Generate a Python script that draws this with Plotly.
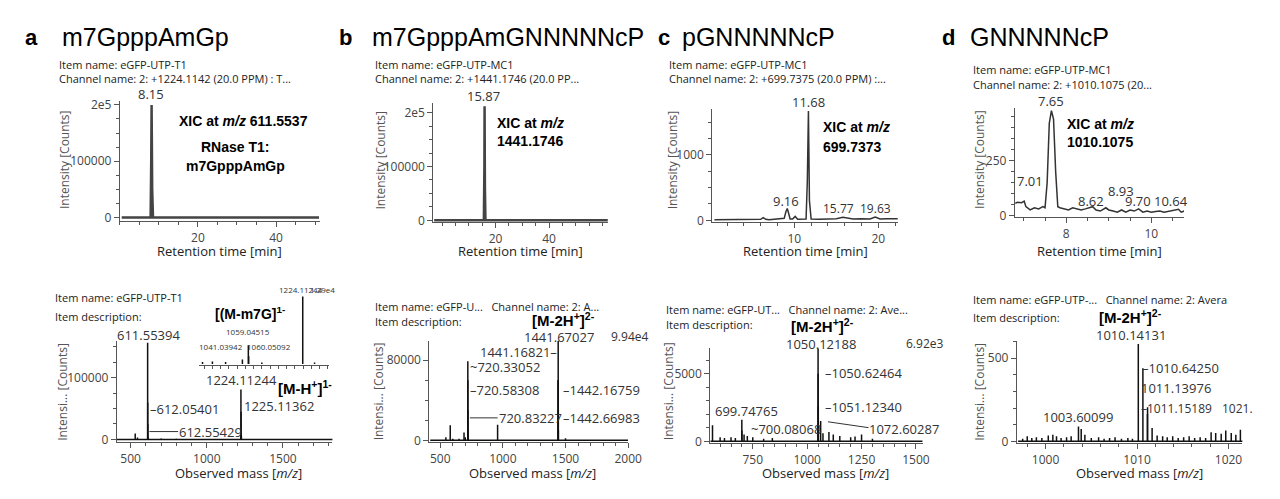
import plotly.graph_objects as go

W, H = 1280, 499

# ---------------- data ----------------
a_rt = [0.5, 7.9, 8.05, 8.15, 8.3, 8.5, 51]
a_xic = [0, 0, 100000, 200000, 50000, 0, 0]
a_mz = [530, 545, 611.55394, 612.05401, 612.55429, 613.05, 700, 800, 1224.11244, 1225.11362, 1226.1, 1227.1, 1420, 1800]
a_int = [9500, 3000, 157000, 60000, 25000, 5000, 1500, 1000, 81000, 45000, 15000, 5000, 800, 500]
ai_mz = [920, 950, 990, 1041.03942, 1059.04515, 1060.05092, 1100, 1224.11244, 1260]
ai_int = [400, 500, 400, 900, 3600, 1500, 300, 12900, 300]

b_rt = [-3, 15.6, 15.8, 15.87, 16.0, 16.2, 62]
b_xic = [0, 0, 100000, 212000, 60000, 0, 0]
b_mz = [545, 580, 600, 650, 690, 700, 720.33052, 720.58308, 720.83227, 721.08, 958, 1441.16821, 1441.67027, 1442.16759, 1442.66983, 1443.17, 1500]
b_int = [3000, 15000, 1500, 1500, 7800, 3000, 79000, 60000, 30000, 10000, 15600, 60000, 99400, 60000, 30000, 10000, 2000]

c_rt = [0.5, 4, 6, 6.3, 6.6, 7, 8, 8.8, 9.0, 9.16, 9.3, 9.5, 9.8, 10.1, 10.4, 11.0, 11.4, 11.55, 11.68, 11.8, 12.0, 13, 14, 15, 15.77, 16.5, 17, 18, 19, 19.63, 20.2, 21, 22, 22.3]
c_xic = [10, 15, 15, 40, 15, 10, 15, 30, 130, 180, 120, 20, 20, 60, 15, 15, 20, 600, 1670, 300, 20, 15, 20, 25, 45, 30, 20, 25, 20, 50, 20, 25, 20, 25]
c_mz = [565, 600, 620, 650, 670, 699.74765, 700.08068, 710, 725, 750, 800, 840, 1050.12188, 1050.62464, 1051.12340, 1051.6, 1062, 1072.60287, 1100, 1120, 1150, 1200, 1220, 1250, 1300]
c_int = [1200, 300, 250, 300, 250, 1600, 800, 500, 400, 300, 200, 250, 6920, 5000, 2600, 1000, 1500, 600, 700, 500, 400, 300, 350, 500, 200]

d_rt = [6.80, 6.85, 6.95, 7.01, 7.05, 7.15, 7.25, 7.35, 7.45, 7.50, 7.55, 7.60, 7.65, 7.70, 7.75, 7.80, 7.85, 7.95, 8.05, 8.15, 8.25, 8.35, 8.45, 8.55, 8.62, 8.70, 8.80, 8.93, 9.00, 9.10, 9.20, 9.30, 9.40, 9.50, 9.60, 9.70, 9.80, 9.90, 10.00, 10.10, 10.20, 10.30, 10.40, 10.50, 10.64, 10.70, 10.77]
d_xic = [55, 60, 58, 65, 40, 25, 35, 30, 40, 35, 150, 420, 478, 440, 200, 40, 35, 30, 25, 35, 30, 25, 30, 35, 40, 25, 20, 35, 25, 20, 15, 25, 15, 25, 20, 30, 15, 20, 15, 18, 20, 15, 18, 22, 28, 15, 20]
d_mz = [997.5, 998.0, 998.5, 999.0, 999.6, 1000.3, 1000.8, 1001.2, 1001.7, 1002.3, 1002.8, 1003.60099, 1003.9, 1004.3, 1005.0, 1005.8, 1006.4, 1007.0, 1007.6, 1008.3, 1009.0, 1009.5,
        1010.14131, 1010.64250, 1011.13976, 1011.15189, 1011.65, 1012.2, 1012.8, 1013.3, 1013.9, 1014.5, 1015.1, 1015.7, 1016.3, 1016.9, 1017.5, 1018.1, 1018.6, 1019.2, 1019.7, 1020.3, 1020.8, 1021.3, 1021.8, 1022.3, 1022.9, 1023.3]
d_int = [15, 30, 20, 25, 20, 35, 40, 30, 20, 25, 30, 90, 75, 40, 20, 25, 15, 20, 25, 15, 20, 15,
         585, 440, 165, 205, 80, 35, 30, 25, 30, 20, 25, 30, 20, 25, 20, 55, 50, 45, 65, 50, 40, 70, 55, 35, 30, 25]

# ---------------- helpers ----------------
def rng(p1, v1, p2, v2, a, b):
    k = (v2 - v1) / (p2 - p1)
    return [v1 + (a - p1) * k, v1 + (b - p1) * k]

def sticks(mz, it):
    xs, ys = [], []
    for m, i in zip(mz, it):
        xs += [m, m, None]
        ys += [0, i, None]
    return xs, ys

TICKF = dict(family="Open Sans", size=12, color="#444")
fig = go.Figure()
layout = {}
annots = []

def add_axes(n, xpx, xcal, ypx, ycal, xticks, xminor, yticks, yminor, ytext=None, showlabels=True, showy=True):
    sx = "" if n == 1 else str(n)
    xr = rng(xcal[0], xcal[1], xcal[2], xcal[3], xpx[0], xpx[1])
    yr = rng(ycal[0], ycal[1], ycal[2], ycal[3], ypx[1], ypx[0])
    if ytext is None and yticks:
        ytext = [str(v) for v in yticks]
    layout["xaxis" + sx] = dict(domain=[xpx[0] / W, xpx[1] / W], range=xr, anchor="y" + sx,
                                showline=True, linecolor="#555", linewidth=1, ticks="outside", ticklen=5, tickcolor="#555",
                                tickvals=xticks, ticktext=[str(v) for v in xticks], showticklabels=showlabels, tickfont=TICKF,
                                showgrid=False, zeroline=False,
                                minor=dict(ticks="outside", ticklen=3, tickcolor="#555", dtick=xminor, showgrid=False))
    layout["yaxis" + sx] = dict(domain=[1 - ypx[1] / H, 1 - ypx[0] / H], range=yr, anchor="x" + sx,
                                showline=showy, linecolor="#555", linewidth=1, ticks="outside" if showy else "", ticklen=5, tickcolor="#555",
                                tickvals=yticks, ticktext=ytext, showticklabels=showy, tickfont=TICKF, showgrid=False, zeroline=False,
                                minor=dict(ticks="outside" if showy else "", ticklen=3, tickcolor="#555", dtick=yminor, showgrid=False))
    return "x" + sx, "y" + sx

def ann(x, y, text, size=13, color="#333", xa="center", bold=False, family="Open Sans", angle=0):
    if bold:
        text = "<b>" + text + "</b>"
    annots.append(dict(x=x / W, y=1 - y / H, xref="paper", yref="paper", text=text, showarrow=False,
                       xanchor=xa, yanchor="middle", textangle=angle, borderpad=0,
                       font=dict(size=size, color=color, family=family)))

def line(x0, y0, x1, y1):
    layout.setdefault("shapes", []).append(dict(type="line", xref="paper", yref="paper",
                                                 x0=x0 / W, y0=1 - y0 / H, x1=x1 / W, y1=1 - y1 / H,
                                                 line=dict(color="#333", width=1)))

BF = "Liberation Sans"

# ---------- panel a ----------
xa_, ya_ = add_axes(1, [113, 315], [192, 20, 271, 40], [90, 213], [209, 0, 94, 200000], [20, 40], 5, [0, 100000, 200000], 25000, ["0", "100000", "2e5"])
fig.add_trace(go.Scatter(x=a_rt, y=a_xic, mode="lines", line=dict(color="#444", width=2.5), xaxis=xa_, yaxis=ya_))
xa_, ya_ = add_axes(2, [110, 328], [124, 500, 278, 1500], [335, 439], [436, 0, 373, 100000], [500, 1000, 1500], 100, [0, 100000], 25000)
xs, ys = sticks(a_mz, a_int)
fig.add_trace(go.Scatter(x=[a_mz[0] - 130] + [a_mz[-1] + 40], y=[0, 0], mode="lines", line=dict(color="#111", width=1.5), xaxis=xa_, yaxis=ya_))
fig.add_trace(go.Scatter(x=xs, y=ys, mode="lines", line=dict(color="#111", width=1.5), xaxis=xa_, yaxis=ya_))
xa_, ya_ = add_axes(3, [193, 325], [243, 1059.04515, 298, 1224.11244], [288, 360], [359, 0, 290, 12900], [], 25, [], None, showlabels=False, showy=False)
xs, ys = sticks(ai_mz, ai_int)
fig.add_trace(go.Scatter(x=xs, y=ys, mode="lines", line=dict(color="#111", width=1.5), xaxis=xa_, yaxis=ya_))

ann(24, 25, "a", 22, "#000", bold=True, family=BF)
ann(54, 25, "m7GpppAmGp", 25, "#000", xa="left", family=BF)
ann(51, 53, "Item name: eGFP-UTP-T1", 11, "#222", xa="left")
ann(51, 67, "Channel name: 2: +1224.1142 (20.0 PPM) : T...", 11, "#222", xa="left")
ann(145, 83, "8.15", 13)
ann(172, 110, "XIC at <i>m/z</i> 611.5537", 14, "#000", xa="left", bold=True, family=BF)
ann(230, 137, "RNase T1:", 14, "#000", bold=True, family=BF)
ann(230, 156, "m7GpppAmGp", 14, "#000", bold=True, family=BF)
ann(57, 150, "Intensity [Counts]", 12, "#555", angle=-90)
ann(214, 243, "Retention time [min]", 13, "#222")
ann(47, 291, "Item name: eGFP-UTP-T1", 11, "#222", xa="left")
ann(47, 310, "Item description:", 11, "#222", xa="left")
ann(142, 329, "611.55394", 13)
ann(143, 405, "–612.05401", 13, xa="left")
line(143, 428, 172, 428)
ann(172, 428, "612.55429", 13, xa="left")
ann(236, 375, "1224.11244", 13)
ann(238, 402, "1225.11362", 13, xa="left")
ann(300, 383, "[M-H<sup>+</sup>]<sup>1-</sup>", 15, "#000", bold=True, family=BF)
ann(245, 307, "[(M-m7G]<sup>1-</sup>", 14, "#000", bold=True, family=BF)
ann(243, 326, "1059.04515", 8)
ann(215, 341, "1041.03942", 8)
ann(264, 341, "1060.05092", 8)
ann(296, 283, "1224.11244", 8)
ann(318, 283, "1.29e4", 8)
ann(55, 387, "Intensi... [Counts]", 12, "#555", angle=-90)
ann(233, 470, "Observed mass [<i>m/z</i>]", 13, "#222")

# ---------- panel b ----------
xa_, ya_ = add_axes(4, [430, 607], [493, 20, 547, 40], [92, 214], [212, 0, 102, 200000], [20, 40], 5, [0, 100000, 200000], 25000, ["0", "100000", "2e5"])
fig.add_trace(go.Scatter(x=b_rt, y=b_xic, mode="lines", line=dict(color="#444", width=2.5), xaxis=xa_, yaxis=ya_))
xa_, ya_ = add_axes(5, [426, 627], [437, 500, 627, 2000], [335, 439], [437, 0, 355, 80000], [500, 1000, 1500, 2000], 100, [0, 80000], 20000)
xs, ys = sticks(b_mz, b_int)
fig.add_trace(go.Scatter(x=[420, 2000], y=[0, 0], mode="lines", line=dict(color="#111", width=1.5), xaxis=xa_, yaxis=ya_))
fig.add_trace(go.Scatter(x=xs, y=ys, mode="lines", line=dict(color="#111", width=1.5), xaxis=xa_, yaxis=ya_))

ann(341, 25, "b", 22, "#000", bold=True, family=BF)
ann(367, 25, "m7GpppAmGNNNNNcP", 25, "#000", xa="left", family=BF)
ann(370, 53, "Item name: eGFP-UTP-MC1", 11, "#222", xa="left")
ann(370, 67, "Channel name: 2: +1441.1746 (20.0 PP...", 11, "#222", xa="left")
ann(481, 85, "15.87", 13)
ann(493, 112, "XIC at <i>m/z</i>", 14, "#000", xa="left", bold=True, family=BF)
ann(493, 131, "1441.1746", 14, "#000", xa="left", bold=True, family=BF)
ann(377, 150, "Intensity [Counts]", 12, "#555", angle=-90)
ann(518, 243, "Retention time [min]", 13, "#222")
ann(370, 300, "Item name: eGFP-U...   Channel name: 2: A...", 11, "#222", xa="left")
ann(370, 315, "Item description:", 11, "#222", xa="left")
ann(562, 313, "[M-2H<sup>+</sup>]<sup>2-</sup>", 15, "#000", bold=True, family=BF)
ann(557, 331, "1441.67027", 13)
ann(628, 331, "9.94e4", 12)
ann(556, 347, "1441.16821–", 13, xa="right")
ann(466, 362, "~720.33052", 13, xa="left")
ann(466, 385, "–720.58308", 13, xa="left")
line(467, 414, 495, 414)
ann(495, 414, "720.83227", 13, xa="left")
ann(560, 385, "–1442.16759", 13, xa="left")
ann(560, 414, "–1442.66983", 13, xa="left")
ann(375, 387, "Intensi... [Counts]", 12, "#555", angle=-90)
ann(530, 470, "Observed mass [<i>m/z</i>]", 13, "#222")

# ---------- panel c ----------
xa_, ya_ = add_axes(6, [712, 900], [795, 10, 880, 20], [98, 214], [212, 0, 145, 1000], [10, 20], 2, [0, 1000], 250)
fig.add_trace(go.Scatter(x=c_rt, y=c_xic, mode="lines", line=dict(color="#333", width=1.5), xaxis=xa_, yaxis=ya_))
xa_, ya_ = add_axes(7, [710, 925], [753, 750, 918, 1500], [343, 440], [438, 0, 369, 5000], [750, 1000, 1250, 1500], 50, [0, 5000], 1000)
xs, ys = sticks(c_mz, c_int)
fig.add_trace(go.Scatter(x=[555, 1530], y=[0, 0], mode="lines", line=dict(color="#111", width=1.5), xaxis=xa_, yaxis=ya_))
fig.add_trace(go.Scatter(x=xs, y=ys, mode="lines", line=dict(color="#111", width=1.5), xaxis=xa_, yaxis=ya_))

ann(663, 25, "c", 22, "#000", bold=True, family=BF)
ann(680, 25, "pGNNNNNcP", 25, "#000", xa="left", family=BF)
ann(667, 53, "Item name: eGFP-UTP-MC1", 11, "#222", xa="left")
ann(667, 67, "Channel name: 2: +699.7375 (20.0 PPM) :...", 11, "#222", xa="left")
ann(809, 91, "11.68", 13)
ann(787, 192, "9.16", 13)
ann(840, 200, "15.77", 12)
ann(877, 200, "19.63", 12)
ann(823, 117, "XIC at <i>m/z</i>", 14, "#000", xa="left", bold=True, family=BF)
ann(823, 137, "699.7373", 14, "#000", xa="left", bold=True, family=BF)
ann(672, 150, "Intensity [Counts]", 12, "#555", angle=-90)
ann(806, 243, "Retention time [min]", 13, "#222")
ann(664, 303, "Item name: eGFP-UT...   Channel name: 2: Ave...", 11, "#222", xa="left")
ann(664, 319, "Item description:", 11, "#222", xa="left")
ann(824, 320, "[M-2H<sup>+</sup>]<sup>2-</sup>", 15, "#000", bold=True, family=BF)
ann(822, 338, "1050.12188", 13)
ann(927, 338, "6.92e3", 12)
ann(825, 368, "–1050.62464", 13, xa="left")
ann(825, 403, "–1051.12340", 13, xa="left")
line(829, 418, 870, 424)
ann(870, 425, "1072.60287", 13, xa="left")
ann(747, 407, "699.74765", 13)
ann(750, 425, "~700.08068", 13, xa="left")
ann(668, 387, "Intensi... [Counts]", 12, "#555", angle=-90)
ann(827, 470, "Observed mass [<i>m/z</i>]", 13, "#222")

# ---------- panel d ----------
xa_, ya_ = add_axes(8, [1018, 1189], [1070, 8, 1156, 10], [97, 209], [207, 0, 151, 250], [8, 10], 0.5, [0, 250], 50)
fig.add_trace(go.Scatter(x=d_rt, y=d_xic, mode="lines", line=dict(color="#333", width=1.5), xaxis=xa_, yaxis=ya_))
xa_, ya_ = add_axes(9, [1020, 1248], [1049, 1000, 1234, 1020], [335, 440], [438, 0, 353, 500], [1000, 1010, 1020], 2, [0, 500], 100)
xs, ys = sticks(d_mz, d_int)
fig.add_trace(go.Scatter(x=[997, 1023.5], y=[0, 0], mode="lines", line=dict(color="#111", width=1.5), xaxis=xa_, yaxis=ya_))
fig.add_trace(go.Scatter(x=xs, y=ys, mode="lines", line=dict(color="#111", width=1.5), xaxis=xa_, yaxis=ya_))

ann(951, 25, "d", 22, "#000", bold=True, family=BF)
ann(972, 25, "GNNNNNcP", 25, "#000", xa="left", family=BF)
ann(975, 58, "Item name: eGFP-UTP-MC1", 11, "#222", xa="left")
ann(975, 73, "Channel name: 2: +1010.1075 (20...", 11, "#222", xa="left")
ann(1055, 90, "7.65", 13)
ann(1033, 172, "7.01", 13)
ann(1095, 192, "8.62", 13)
ann(1125, 182, "8.93", 13)
ann(1143, 192, "9.70", 13)
ann(1176, 192, "10.64", 13)
ann(1070, 113, "XIC at <i>m/z</i>", 14, "#000", xa="left", bold=True, family=BF)
ann(1070, 132, "1010.1075", 14, "#000", xa="left", bold=True, family=BF)
ann(982, 150, "Intensity [Counts]", 12, "#555", angle=-90)
ann(1104, 243, "Retention time [min]", 13, "#222")
ann(975, 293, "Item name: eGFP-UTP-...   Channel name: 2: Avera", 11, "#222", xa="left")
ann(975, 311, "Item description:", 11, "#222", xa="left")
ann(1135, 310, "[M-2H<sup>+</sup>]<sup>2-</sup>", 15, "#000", bold=True, family=BF)
ann(1135, 329, "1010.14131", 13)
ann(1146, 363, "–1010.64250", 13, xa="left")
ann(1145, 383, "1011.13976", 13, xa="left")
ann(1145, 404, "–1011.15189", 12, xa="left")
ann(1226, 404, "1021.", 12, xa="left")
ann(1082, 413, "1003.60099", 13)
ann(982, 387, "Intensi... [Counts]", 12, "#555", angle=-90)
ann(1144, 470, "Observed mass [<i>m/z</i>]", 13, "#222")

fig.update_layout(**layout)
fig.update_layout(width=W, height=H, margin=dict(l=0, r=0, t=0, b=0), showlegend=False,
                  plot_bgcolor="white", paper_bgcolor="white", annotations=annots)
fig.write_html("out.html", config={"displayModeBar": False})
